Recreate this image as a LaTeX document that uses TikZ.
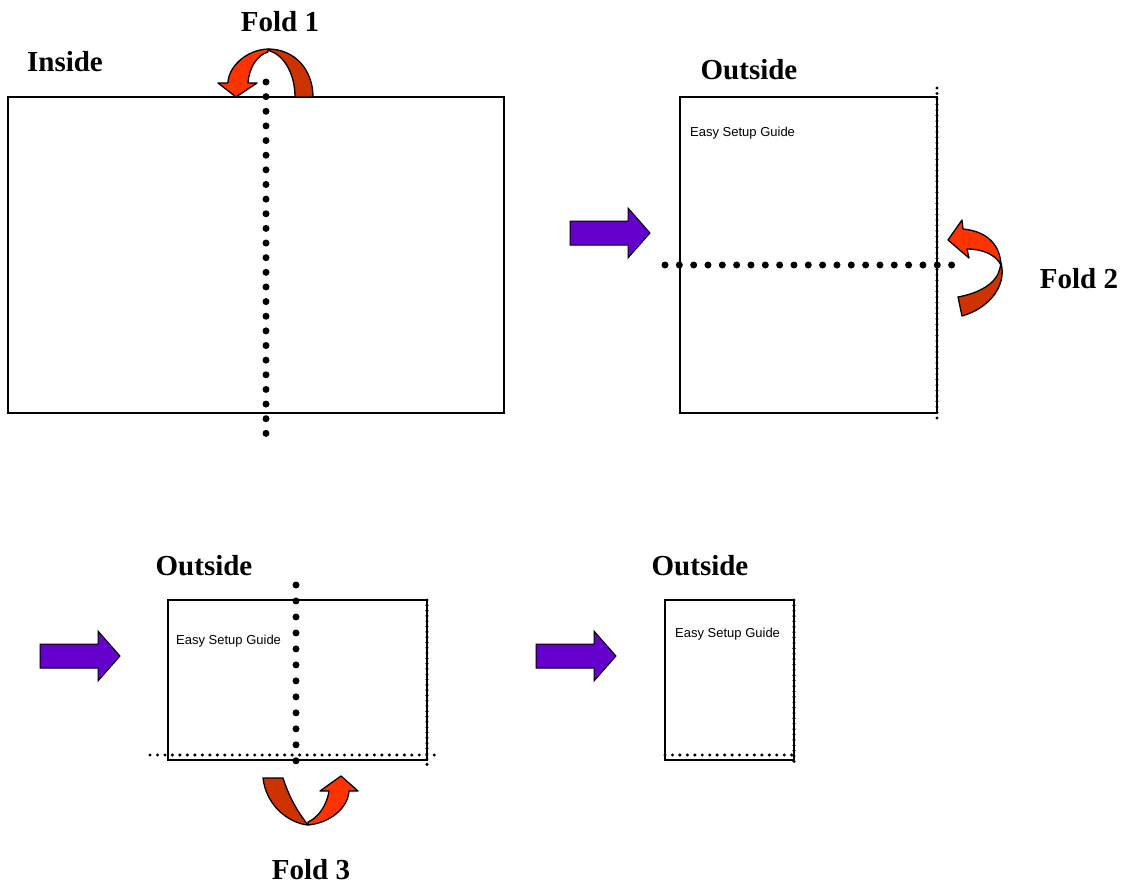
\documentclass[tikz,border=0pt]{standalone}
\usepackage{fontspec}
\setmainfont{Liberation Serif}
\setsansfont{Liberation Sans}
\usepackage{xcolor}

\begin{document}
\begin{tikzpicture}[x=1pt,y=-1pt,
  sheet/.style={draw,line width=1.5pt},
  bigdots/.style={line width=7pt,line cap=round,dash pattern=on 0pt off #1},
  smalldots/.style={line width=3.4pt,line cap=round,dash pattern=on 0pt off #1},
  title/.style={font=\fontsize{29}{34}\selectfont\bfseries},
  guide/.style={font=\sffamily\fontsize{13}{15}\selectfont,anchor=base west,inner sep=0pt},
  pusharrow/.style={fill=pushviolet,draw=black,line width=1pt},
  foldfront/.style={fill=foldorange,draw=black,line width=1.3pt,line join=round},
  foldback/.style={fill=folddark,draw=black,line width=1.3pt,line join=round}]
\definecolor{pushviolet}{HTML}{6600CC}
\definecolor{foldorange}{HTML}{FF3300}
\definecolor{folddark}{HTML}{CC3300}
\useasboundingbox (0,0) rectangle (1127,888);
\node[title] (fold1) at (280,22) {Fold 1};
\node[title] (inside) at (65,62) {Inside};
\node[title] (fold2) at (1079,279) {Fold 2};
\node[title] (fold3) at (311,870) {Fold 3};
  \foreach \nm/\ox/\oy in {outA/749/70,outB/204/566,outC/700/566}
  {  \node[title] (\nm) at (\ox,\oy) {Outside};}
\draw[sheet] (8,97) rectangle (504,413);
\draw[sheet] (680,97) rectangle (937,413);
\draw[sheet] (168,600) rectangle (427,760);
\draw[sheet] (665,600) rectangle (794,760);
\node[guide] (guideA) at (690,137) {Easy Setup Guide};
\node[guide] (guideB) at (176,644) {Easy Setup Guide};
\node[guide] (guideC) at (675,637) {Easy Setup Guide};
\draw[bigdots=14.64pt] (266,82) -- (266,434);
\draw[bigdots=14.33pt] (665,265) -- (952,265);
\draw[smalldots=5.5pt] (937,88) -- (937,418);
\draw[bigdots=15.98pt] (296,585) -- (296,761);
\draw[smalldots=5.3pt] (427,600) -- (427,769);
\draw[smalldots=7.48pt] (150,755) -- (435,755);
\draw[smalldots=5.38pt] (794,600) -- (794,762);
\draw[smalldots=7.45pt] (665,755) -- (792,755);
  \foreach \ax/\ay in {570/233,40/656,536/656}
  {  \draw[pusharrow] (\ax,\ay-12) -- ++(58,0) -- ++(0,-13) -- ++(22,25) -- ++(-22,25) -- ++(0,-13) -- ++(-58,0) -- cycle;}
\draw[foldback] (268,49) .. controls (295,49) and (313,70) .. (313,97) -- (295,97) .. controls (295,75) and (285,56) .. (270,51) -- cycle;
\draw[foldfront] (268,49) .. controls (245,50) and (228,68) .. (228,83) -- (218,83) -- (236,97) -- (257,83) -- (248,83) .. controls (249,68) and (257,55) .. (268,52) -- cycle;
\draw[foldback] (1001,263) .. controls (1007,285) and (990,308) .. (962,316) -- (958,297) .. controls (980,293) and (997,283) .. (1000,268) -- cycle;
\draw[foldfront] (1001,265) .. controls (1000,243) and (985,231) .. (963,229) -- (962,220) -- (948,240) -- (969,258) -- (967,249) .. controls (983,249) and (996,255) .. (1001,265) -- cycle;
\draw[foldback] (263,778) .. controls (266,805) and (288,823) .. (308,825) .. controls (300,815) and (290,800) .. (283,778) -- cycle;
\draw[foldfront] (308,825) .. controls (330,823) and (348,808) .. (349,791) -- (358,791) -- (341,776) -- (320,791) -- (329,791) .. controls (327,805) and (318,818) .. (308,822) -- cycle;
\end{tikzpicture}
\end{document}
